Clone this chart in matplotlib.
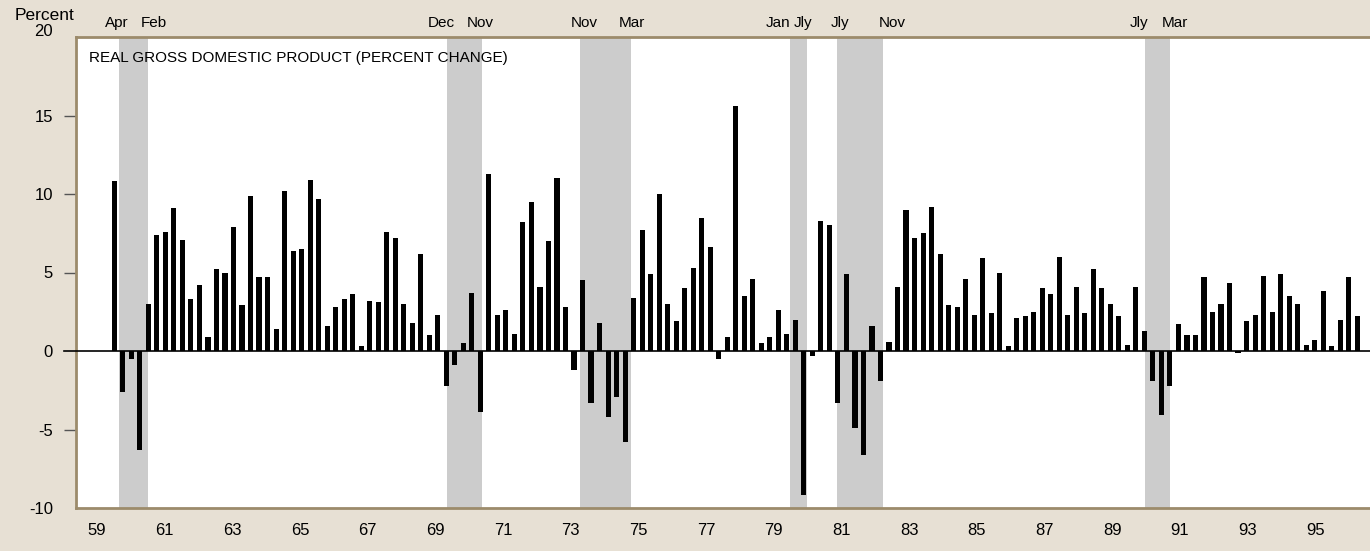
import matplotlib.pyplot as plt
import pandas as pd

plt.rcParams['font.family'] = ['Liberation Sans', 'DejaVu Sans']

# real GDP, annualized quarterly percent change, 1960Q1 - 1996Q3
gdp_change = [
    10.8, -2.6, -0.5, -6.3,   # 1960
    3.0, 7.4, 7.6, 9.1,       # 1961
    7.1, 3.3, 4.2, 0.9,       # 1962
    5.2, 5.0, 7.9, 2.9,       # 1963
    9.9, 4.7, 4.7, 1.4,       # 1964
    10.2, 6.4, 6.5, 10.9,     # 1965
    9.7, 1.6, 2.8, 3.3,       # 1966
    3.6, 0.3, 3.2, 3.1,       # 1967
    7.6, 7.2, 3.0, 1.8,       # 1968
    6.2, 1.0, 2.3, -2.2,      # 1969
    -0.9, 0.5, 3.7, -3.9,     # 1970
    11.3, 2.3, 2.6, 1.1,      # 1971
    8.2, 9.5, 4.1, 7.0,       # 1972
    11.0, 2.8, -1.2, 4.5,     # 1973
    -3.3, 1.8, -4.2, -2.9,    # 1974
    -5.8, 3.4, 7.7, 4.9,      # 1975
    10.0, 3.0, 1.9, 4.0,      # 1976
    5.3, 8.5, 6.6, -0.5,      # 1977
    0.9, 15.6, 3.5, 4.6,      # 1978
    0.5, 0.9, 2.6, 1.1,       # 1979
    2.0, -9.2, -0.3, 8.3,     # 1980
    8.0, -3.3, 4.9, -4.9,     # 1981
    -6.6, 1.6, -1.9, 0.6,     # 1982
    4.1, 9.0, 7.2, 7.5,       # 1983
    9.2, 6.2, 2.9, 2.8,       # 1984
    4.6, 2.3, 5.9, 2.4,       # 1985
    5.0, 0.3, 2.1, 2.2,       # 1986
    2.5, 4.0, 3.6, 6.0,       # 1987
    2.3, 4.1, 2.4, 5.2,       # 1988
    4.0, 3.0, 2.2, 0.4,       # 1989
    4.1, 1.3, -1.9, -4.1,     # 1990
    -2.2, 1.7, 1.0, 1.0,      # 1991
    4.7, 2.5, 3.0, 4.3,       # 1992
    -0.1, 1.9, 2.3, 4.8,      # 1993
    2.5, 4.9, 3.5, 3.0,       # 1994
    0.4, 0.7, 3.8, 0.3,       # 1995
    2.0, 4.7, 2.2,            # 1996
]

# recession bands (decimal years as drawn) and their month labels
recession_start = [1960.26, 1969.90, 1973.80, 1979.97, 1981.35, 1990.40]
recession_end = [1961.11, 1970.92, 1975.30, 1980.47, 1982.70, 1991.13]
start_labels = ['Apr', 'Dec', 'Nov', 'Jan', 'Jly', 'Jly']
end_labels = ['Feb', 'Nov', 'Mar', 'Jly', 'Nov', 'Mar']

year_labels = ['59', '61', '63', '65', '67', '69', '71', '73', '75',
               '77', '79', '81', '83', '85', '87', '89', '91', '93', '95']
y_ticks = [-10, -5, 0, 5, 10, 15, 20]

BG = '#e7e0d4'
FRAME = '#9c8b6b'

# small nudges (in years) so the month labels sit where the original put them
start_nudge = [-0.06, -0.18, 0.12, -0.35, 0.09, -0.18]
end_nudge = [0.18, -0.06, 0.03, -0.12, 0.27, 0.15]

quarters = pd.period_range('1960Q1', periods=len(gdp_change), freq='Q')
x = quarters.year + (quarters.quarter - 1) / 4 + 0.125

fig = plt.figure(figsize=(13.7, 5.51), dpi=100, facecolor=BG)
ax = fig.add_axes([76 / 1370, 43 / 551, 1294 / 1370, 471 / 551])
ax.set_facecolor('white')

for s, e in zip(recession_start, recession_end):
    ax.axvspan(s, e, color='#cccccc', lw=0, zorder=0)

ax.bar(x, gdp_change, width=0.15, color='black', zorder=2)

# zero line runs a little past the left frame, like a long tick
ax.plot([-0.0093, 1], [0, 0], transform=ax.get_yaxis_transform(),
        color='black', lw=1.2, clip_on=False, zorder=3)

ax.set_xlim(1959, 1997)
ax.set_ylim(-10, 20)

# year labels drift slightly in the original, from about mid-year to a bit earlier
year_pos = [1959.62 + (int(y) - 59) * (35.77 / 36) for y in year_labels]
ax.set_xticks(year_pos, year_labels)
ax.tick_params(axis='x', length=0, pad=11, labelsize=12)
ax.set_yticks(y_ticks, [str(v) if v != 20 else '' for v in y_ticks])
ax.tick_params(axis='y', length=8.6, width=1, color='#555555', pad=8, labelsize=12)
for t in ax.yaxis.get_major_ticks():
    if t.get_loc() in (-10, 0, 20):
        t.tick1line.set_visible(False)

for side in ['left', 'top', 'bottom']:
    ax.spines[side].set_color(FRAME)
    ax.spines[side].set_linewidth(2)
ax.spines['right'].set_visible(False)

# month labels above the recession bands
trans = ax.get_xaxis_transform()
for s, e, ls, le, ns, ne in zip(recession_start, recession_end, start_labels,
                                end_labels, start_nudge, end_nudge):
    ax.text(s + ns, 1.03, ls, transform=trans, ha='center', va='center', fontsize=11)
    ax.text(e + ne, 1.03, le, transform=trans, ha='center', va='center', fontsize=11)

ax.text(13 / 1294, 1 - 21 / 471, 'REAL GROSS DOMESTIC PRODUCT (PERCENT CHANGE)',
        transform=ax.transAxes, va='center', fontsize=11)
fig.text(44 / 1370, 1 - 16 / 551, 'Percent', ha='center', va='center', fontsize=12.5)
fig.text(53 / 1370, 1 - 32 / 551, '20', ha='right', va='center', fontsize=12)

fig.savefig('out.png', dpi=100, facecolor=fig.get_facecolor())
